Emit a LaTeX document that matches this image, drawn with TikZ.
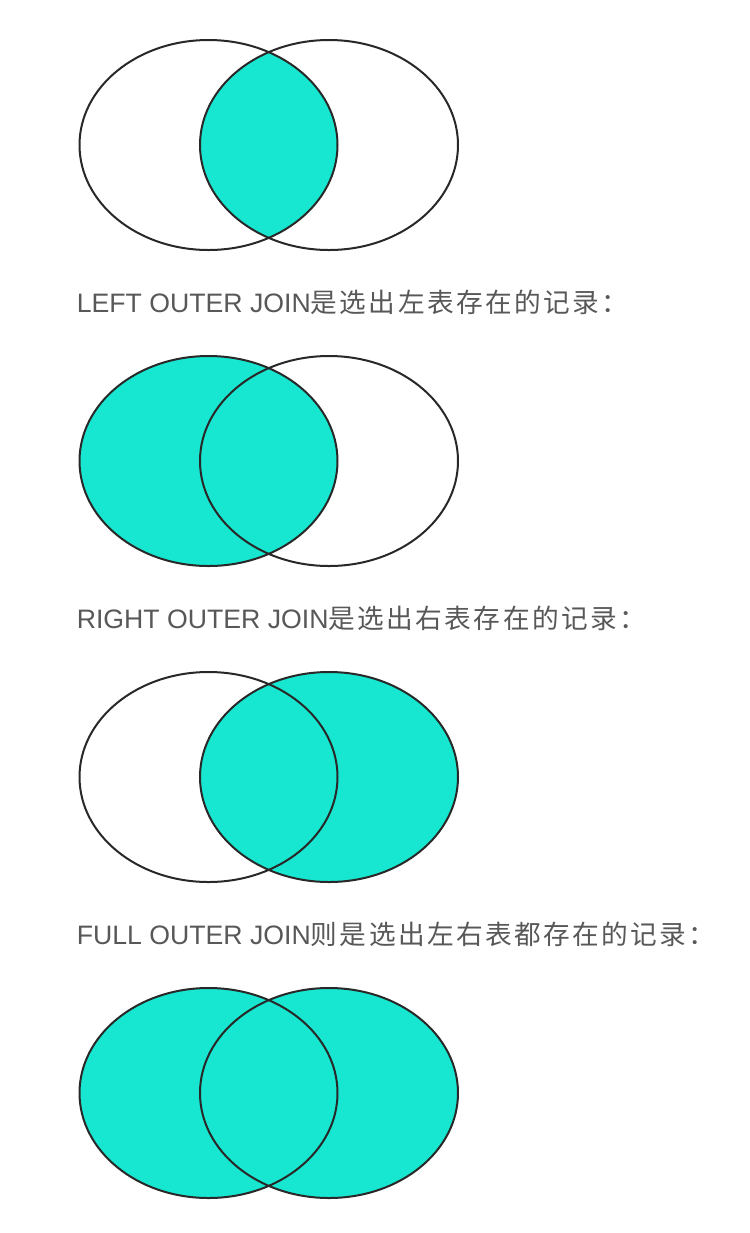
\documentclass[tikz,border=0pt]{standalone}
\usepackage{fontspec}
\setmainfont{Liberation Sans}
\newfontfamily\cjk[LetterSpace=9]{Noto Sans CJK SC}
\usetikzlibrary{positioning}

\definecolor{venn}{RGB}{23,230,208}
\definecolor{txt}{RGB}{88,88,88}
\definecolor{rim}{RGB}{40,40,40}

\begin{document}
\begin{tikzpicture}[x=0.75pt,y=-0.75pt,
	rim/.style={draw=rim,line width=1.5pt},
	label/.style={anchor=base west,inner sep=0pt,text=txt,font=\fontsize{20pt}{24pt}\selectfont}]
	
	\useasboundingbox (0,0) rectangle (750,1233);
	
	% inner join
	\begin{scope}
		\clip (208.5,145) ellipse [x radius=129, y radius=105];
		\fill[venn] (329,145) ellipse [x radius=129, y radius=105];
	\end{scope}
	\draw[rim] (208.5,145) ellipse [x radius=129, y radius=105];
	\draw[rim] (329,145) ellipse [x radius=129, y radius=105];
	
	\node[label] (left) at (76.5,312) {LEFT OUTER JOIN{\cjk 是选出左表存在的记录：}};
	
	% left outer join
	\fill[venn] (208.5,461) ellipse [x radius=129, y radius=105];
	\draw[rim] (208.5,461) ellipse [x radius=129, y radius=105];
	\draw[rim] (329,461) ellipse [x radius=129, y radius=105];
	
	\node[label] (right) at (76.5,628) {RIGHT OUTER JOIN{\cjk 是选出右表存在的记录：}};
	
	% right outer join
	\fill[venn] (329,777) ellipse [x radius=129, y radius=105];
	\draw[rim] (208.5,777) ellipse [x radius=129, y radius=105];
	\draw[rim] (329,777) ellipse [x radius=129, y radius=105];
	
	\node[label] (full) at (76.5,944) {FULL OUTER JOIN{\cjk 则是选出左右表都存在的记录：}};
	
	% full outer join
	\fill[venn] (208.5,1093) ellipse [x radius=129, y radius=105];
	\fill[venn] (329,1093) ellipse [x radius=129, y radius=105];
	\draw[rim] (208.5,1093) ellipse [x radius=129, y radius=105];
	\draw[rim] (329,1093) ellipse [x radius=129, y radius=105];
\end{tikzpicture}
\end{document}
